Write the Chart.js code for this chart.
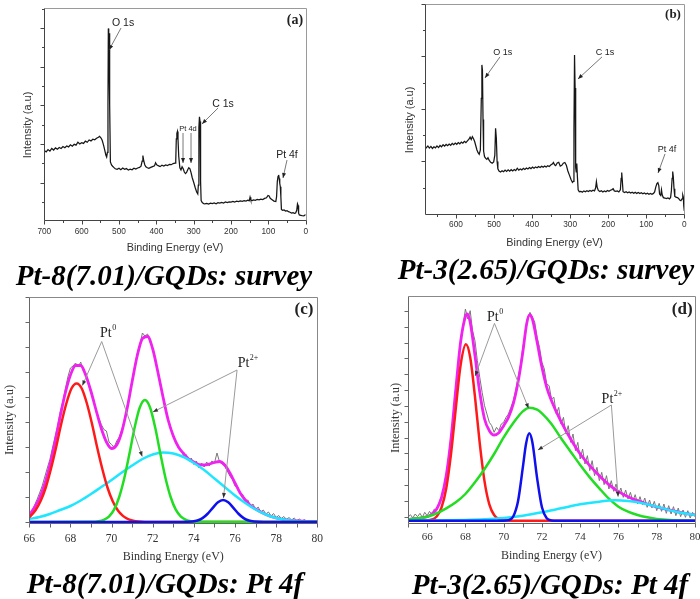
<!DOCTYPE html>
<html>
<head>
<meta charset="utf-8">
<title>XPS spectra of Pt/GQDs</title>
<script src="https://cdn.jsdelivr.net/npm/chart.js"></script>
<style>
  html, body { margin: 0; padding: 0; background: #fff; }
  body { position: relative; width: 700px; height: 599px; overflow: hidden; }
  canvas { position: absolute; left: 0; top: 0; }
  .caption { position: absolute; transform: translate(-50%, -50%); white-space: nowrap;
    font: italic bold 29px/1 "Liberation Serif", "Times New Roman", serif; color: #000; }
</style>
</head>
<body>
<canvas id="chartA" width="700" height="599"></canvas>
<canvas id="chartB" width="700" height="599"></canvas>
<canvas id="chartC" width="700" height="599"></canvas>
<canvas id="chartD" width="700" height="599"></canvas>
<div class="caption" style="left:164px;top:274.5px">Pt-8(7.01)/GQDs: survey</div>
<div class="caption" style="left:546px;top:269px">Pt-3(2.65)/GQDs: survey</div>
<div class="caption" style="left:165px;top:582.5px">Pt-8(7.01)/GQDs: Pt 4f</div>
<div class="caption" style="left:550px;top:584px">Pt-3(2.65)/GQDs: Pt 4f</div>
<script>
// ---------- data ----------

// (a) survey, Pt-8(7.01)/GQDs
const surveyA_eV = [
  700,695,690,685,680,675,670,665,660,655,
  650,645,640,635,630,625,620,615,610,605,
  600,595,590,585,580,575,570,565,560,555,
  552,548,545,541,538,535,533,531,529.5,528.5,
  527.5,526.5,525.5,524.5,523,520,517,514,510,505,
  500,495,490,485,480,475,470,465,460,455,
  450,445,441,438,436,434,431,428,424,420,
  415,410,405,402,399,395,390,385,380,375,
  370,365,360,355,350,348,346.5,345,343.5,342,
  340,337,334,331,328,325,322,319,316,313,
  310,307,304,300,296,292,289,287.5,286,284.5,
  283,281.5,280,277,273,270,265,260,255,250,
  245,240,235,230,225,220,215,210,205,200,
  195,190,185,180,175,170,165,160,155,151,
  149,147,143,140,135,130,125,120,115,110,
  105,101,98,95,90,85,80,78,76,74,
  72.5,71,69.5,68,66.5,65,62,58,54,50,
  46,42,38,34,30,27,24,22,20.5,19,
  17,13,9,5,2,0];
const surveyA_counts = [
  36.0,35.2,36.4,35.6,37.0,36.2,37.3,36.6,37.5,37.0,
  38.0,37.4,38.3,37.8,38.9,38.2,39.2,38.7,40.2,39.3,
  40.0,39.6,40.8,40.2,41.4,40.9,41.8,41.5,42.3,42.8,
  43.3,42.4,41.2,38.5,36.0,33.5,32.6,35.0,60,99.1,
  97,80,96.6,60,30.0,28.5,27.8,27.2,26.5,26.2,
  26.8,26.0,26.9,26.2,26.6,25.8,26.3,26.0,26.8,26.3,
  26.9,27.2,27.8,30.5,33.3,31.0,28.6,27.5,27.0,26.7,
  27.2,27.6,28.0,29.6,28.6,28.1,27.6,28.3,27.9,28.5,
  28.2,28.8,28.6,29.2,29.4,30.5,42.0,44.8,45.8,42.0,
  33.0,27.0,25.9,27.5,26.5,24.8,24.0,24.6,26.0,27.0,
  26.5,24.5,22.0,19.5,16.8,14.5,13.5,18.0,48.0,53.4,
  51.0,20.0,10.0,9.0,8.4,8.3,8.6,8.2,8.7,8.5,
  8.8,8.4,9.0,8.7,9.1,8.8,9.3,9.0,9.4,9.3,
  9.6,9.3,9.8,9.5,9.9,9.7,10.0,9.8,10.2,10.0,
  11.8,10.3,10.1,10.4,10.2,10.6,10.4,10.8,10.6,11.2,
  11.5,12.7,12.4,11.2,10.5,9.8,9.6,12,20,22.6,
  23.3,21.5,19,17.2,12,5.5,5.0,5.2,4.6,4.8,
  4.3,4.0,3.6,3.8,3.4,3.6,5.0,8.3,7.5,3.5,
  2.6,2.4,2.2,2.1,2.6,2.8];
const surveyA_ticks = [0, 100, 200, 300, 400, 500, 600, 700];

// (b) survey, Pt-3(2.65)/GQDs
const surveyB_eV = [
  681.5,680.5,678,674,670,666,662,658,654,650,
  646,642,638,634,630,626,622,618,614,610,
  606,602,598,594,590,586,582,578,574,570,
  566,563,560,557,554,551,548,545,542,539,
  536,533.5,532,530.5,529,527.5,525,522,519,516,
  513,509,505,501,498,496,494,492,490,487,
  483,479,475,471,467,463,459,455,451,447,
  443,439,435,431,427,423,419,415,411,407,
  403,399,395,391,387,383,379,375,371,367,
  363,359,355,351,347,344,341,338,334,330,
  326,322,318,314,310,306,302,298,294,291.5,
  290,288.5,287,285.5,284,282.5,281,279,276,272,
  268,264,260,256,252,248,244,240,236,233,
  231,229,226,222,218,214,210,206,202,198,
  194,190,187,184,180,176,172,168,166,164.5,
  163,161,157,153,149,145,141,137,133,129,
  125,121,117,113,109,105,101,97,93,89,
  85,81,78,75,72,69.5,67,65,62,60,
  58,55,51,47,43,39,36,34,32,30.5,
  29,27,25,22,18,15,12,9,6,4,
  2.5,1.5,0];
const surveyB_counts = [
  37.6,32.0,31.5,32.4,31.4,32.2,31.2,32.0,31.5,32.4,
  31.6,32.6,32.0,33.0,32.3,33.1,32.5,33.3,32.7,33.6,
  33.0,33.8,33.2,34.0,33.4,34.2,33.7,34.6,34.0,34.8,
  35.6,36.6,35.5,36.8,35.8,34.5,32.5,30.5,29.2,28.4,
  30.5,55,71.0,68.5,45,30.0,27.3,26.5,26.0,26.8,
  25.6,24.6,24.2,24.8,28,40.8,36,25,21.5,20.4,
  20.0,20.6,20.1,20.9,20.3,21.0,20.4,21.1,20.5,21.2,
  20.7,21.8,20.9,21.4,21.0,21.7,21.2,21.9,21.4,22.1,
  21.6,22.3,21.8,22.4,22.0,22.6,22.1,22.7,22.3,22.8,
  22.4,23.0,22.6,23.3,23.8,24.5,23.4,23.0,24.3,24.6,
  22.8,23.2,24.2,24.5,23.2,20.5,18.5,16.5,15.0,15.5,
  40,75.7,60,22,20,24.0,18,11.5,10.6,10.8,
  10.4,11.0,10.6,11.1,10.7,11.2,10.8,11.3,11.0,12.5,
  15.4,12.8,11.2,10.7,11.1,10.5,11.0,10.6,11.2,10.8,
  11.3,11.6,12.0,11.0,10.8,11.0,10.5,11.5,17.0,19.7,
  16.0,10.6,10.2,10.6,10.1,10.5,10.0,10.4,9.9,10.3,
  9.8,10.2,9.7,10.1,9.6,10.0,9.5,9.9,9.4,9.8,
  9.4,9.8,10.5,12.8,14.5,14.9,13.5,9.5,8.8,11.5,
  9.0,7.8,7.6,7.3,7.6,7.2,7.9,11,17,20.2,
  18,12,8.4,8.0,7.8,7.4,6.6,6.3,7.2,9.0,
  8.0,4.0,1.5];
const surveyB_ticks = [0, 100, 200, 300, 400, 500, 600];

// (c) Pt 4f, Pt-8(7.01)/GQDs
const pt4fC_ticks = [66, 68, 70, 72, 74, 76, 78, 80];
const pt4fC_rawStart = 66, pt4fC_rawStep = 0.125;
const pt4fC_raw = [
  0.10,0.20,0.33,0.45,0.58,0.72,0.90,1.08,
  1.25,1.48,1.70,1.92,2.20,2.40,2.66,2.90,
  3.08,3.12,3.18,3.10,3.20,3.02,2.98,2.75,
  2.58,2.45,2.20,2.08,1.95,1.85,1.82,1.60,
  1.55,1.50,1.62,1.70,1.85,2.05,2.30,2.55,
  2.85,3.12,3.38,3.55,3.78,3.72,3.76,3.60,
  3.48,3.22,3.02,2.78,2.52,2.30,2.05,1.90,
  1.70,1.62,1.48,1.45,1.32,1.35,1.22,1.28,
  1.15,1.22,1.08,1.18,1.10,1.20,1.12,1.22,
  1.18,1.38,1.20,1.16,1.12,1.02,0.92,0.85,
  0.72,0.70,0.56,0.55,0.42,0.44,0.32,0.36,
  0.25,0.30,0.20,0.24,0.16,0.20,0.12,0.17,
  0.09,0.13,0.07,0.11,0.05,0.09,0.04,0.08,
  0.03,0.06,0.02,0.05,0.01,0.03,0.00,0.02,
  0.00];
const pt4fC_envX = [66,66.25,66.5,66.75,67,67.25,67.5,67.75,68,68.25,68.5,68.75,69,69.25,69.5,69.75,
  70,70.25,70.5,70.75,71,71.25,71.5,71.75,72,72.25,72.5,72.75,73,73.25,73.5,73.75,
  74,74.25,74.5,74.75,75,75.25,75.5,75.75,76,76.25,76.5,76.75,77,77.5,78,78.5,79,79.5,80];
const pt4fC_envY = [0.14,0.29,0.48,0.76,1.14,1.60,2.11,2.58,2.94,3.13,3.13,2.93,2.61,2.23,1.87,1.60,
  1.47,1.54,1.81,2.26,2.81,3.33,3.67,3.71,3.46,3.00,2.50,2.04,1.72,1.50,1.37,1.26,
  1.20,1.15,1.14,1.16,1.19,1.21,1.14,0.98,0.78,0.58,0.44,0.33,0.26,0.15,0.08,0.04,0.02,0.01,0.01];
const pt4fC_redX = [66,66.3,66.55,66.8,67.05,67.3,67.55,67.8,68.05,68.3,68.55,68.8,69.05,69.3,69.55,69.8,70.05,70.3,70.55,70.8,71.05,71.3,72,80];
const pt4fC_redY = [0.09,0.235,0.42,0.69,1.06,1.49,1.96,2.37,2.67,2.77,2.67,2.37,1.96,1.49,1.06,0.69,0.42,0.235,0.122,0.058,0.026,0.011,0,0];
const pt4fC_greenX = [66,69,69.37,69.62,69.87,70.12,70.37,70.62,70.87,71.12,71.37,71.62,71.87,72.12,72.37,72.62,72.87,73.12,73.37,73.62,73.87,74.2,80];
const pt4fC_greenY = [0,0.003,0.014,0.041,0.107,0.246,0.50,0.88,1.37,1.89,2.29,2.44,2.29,1.89,1.37,0.88,0.50,0.246,0.107,0.041,0.014,0.003,0];
const pt4fC_blueX = [66,73.4,73.92,74.17,74.42,74.67,74.92,75.17,75.42,75.67,75.92,76.17,76.42,76.67,76.92,77.4,80];
const pt4fC_blueY = [0,0,0.009,0.029,0.077,0.165,0.284,0.395,0.44,0.395,0.284,0.165,0.077,0.029,0.009,0,0];
const pt4fC_cyanX = [66,66.5,67,67.5,68,68.5,69,69.5,70,70.5,71,71.5,72,72.5,73,73.5,74,74.5,75,75.5,76,76.5,77,77.5,78,78.5,79,79.5,80];
const pt4fC_cyanY = [0.06,0.10,0.16,0.24,0.32,0.43,0.56,0.70,0.84,0.99,1.13,1.26,1.35,1.39,1.37,1.30,1.18,1.04,0.87,0.70,0.53,0.38,0.25,0.15,0.08,0.04,0.02,0.01,0.01];

// (d) Pt 4f, Pt-3(2.65)/GQDs
const pt4fD_ticks = [66, 68, 70, 72, 74, 76, 78, 80];
const pt4fD_rawStart = 65, pt4fD_rawStep = 0.125;
const pt4fD_raw = [
  0.10,0.18,0.08,0.20,0.12,0.22,0.10,0.25,
  0.15,0.28,0.18,0.35,0.32,0.55,0.72,1.00,
  1.30,1.95,2.55,3.15,4.05,4.55,5.45,5.85,
  6.35,6.05,6.30,5.70,5.40,4.80,4.30,3.85,
  3.45,3.20,2.95,2.85,2.65,2.80,2.70,2.90,
  2.95,3.10,3.20,3.40,3.60,3.90,4.30,4.65,
  5.20,5.60,6.10,6.25,6.10,5.95,5.50,5.20,
  4.75,4.55,4.10,4.05,3.65,3.70,3.20,3.40,
  2.90,3.10,2.60,2.85,2.35,2.60,2.10,2.35,
  1.85,2.15,1.70,1.95,1.50,1.80,1.35,1.60,
  1.20,1.45,1.08,1.35,0.95,1.20,0.88,1.10,
  0.78,0.98,0.70,0.92,0.65,0.85,0.58,0.78,
  0.50,0.72,0.48,0.68,0.40,0.62,0.38,0.58,
  0.30,0.52,0.28,0.50,0.22,0.45,0.20,0.42,
  0.15,0.38,0.12,0.32,0.10,0.30,0.08,0.25,
  0.12];
const pt4fD_envX = [65,65.5,66,66.25,66.5,66.75,67,67.25,67.5,67.75,68,68.1,68.25,68.5,68.75,69,69.25,69.5,69.75,
  70,70.25,70.5,70.75,71,71.2,71.35,71.5,71.75,72,72.25,72.5,73,73.5,74,74.5,75,75.5,76,76.5,77,77.5,78,78.5,79,79.5,80];
const pt4fD_envY = [0.04,0.07,0.12,0.2,0.35,0.69,1.36,2.47,3.95,5.36,6.12,6.2,5.95,4.95,3.85,3.05,2.7,2.57,2.64,
  2.85,3.1,3.5,4.15,5.05,5.9,6.17,6.05,5.35,4.6,4.0,3.6,2.97,2.45,2.0,1.65,1.35,1.08,0.87,0.72,0.6,0.5,0.41,0.34,0.28,0.22,0.17];
const pt4fD_redX = [65,65.9,66.25,66.5,66.75,67,67.25,67.5,67.75,68.03,68.25,68.5,68.75,69,69.25,69.5,69.75,70,70.3,80];
const pt4fD_redY = [0,0.004,0.034,0.127,0.39,0.975,2.01,3.38,4.67,5.29,4.90,3.72,2.32,1.18,0.49,0.17,0.047,0.011,0.001,0];
const pt4fD_greenX = [65,65.5,66,66.5,67,67.5,68,68.5,69,69.5,70,70.5,71,71.35,71.75,72,72.5,73,73.5,74,74.5,75,75.5,76,76.5,77,77.5,78,78.5,79,80];
const pt4fD_greenY = [0.04,0.07,0.12,0.22,0.37,0.55,0.80,1.15,1.55,2.0,2.5,2.93,3.28,3.39,3.33,3.22,2.90,2.47,2.07,1.67,1.30,0.97,0.66,0.42,0.27,0.17,0.10,0.05,0.03,0.01,0];
const pt4fD_blueX = [65,70,70.25,70.5,70.75,71,71.17,71.34,71.5,71.75,72,72.25,72.5,72.8,80];
const pt4fD_blueY = [0,0.001,0.015,0.124,0.58,1.59,2.31,2.62,2.35,1.27,0.40,0.073,0.008,0,0];
const pt4fD_cyanX = [65,66,67,68,69,70,71,72,73,74,75,75.8,76.5,77,78,79,80];
const pt4fD_cyanY = [0,0.005,0.01,0.02,0.04,0.08,0.15,0.25,0.37,0.49,0.57,0.61,0.59,0.55,0.42,0.27,0.17];

// ---------- helpers ----------
const SANS = '"Liberation Sans", Arial, sans-serif';
const SERIF = '"Liberation Serif", "Times New Roman", serif';

const points = (xs, ys) => xs.map((x, i) => ({ x: x, y: ys[i] }));
const sampled = (x0, dx, ys) => ys.map((y, i) => ({ x: x0 + i * dx, y: y }));

function trace(data, color, width, smooth) {
    return {
        data: data,
        borderColor: color,
        borderWidth: width,
        pointRadius: 0,
        fill: false,
        tension: 0,
        cubicInterpolationMode: smooth ? 'monotone' : 'default'
    };
}

const label = (x, y, text, font, sup, supFont) => ({ x, y, text, font, sup, supFont });
const arrow = (x1, y1, x2, y2) => ({ arrow: [x1, y1, x2, y2] });

// frame, ticks, y title and the peak labels, all placed through the chart's scales
function decorPlugin(d) {
    return {
        id: 'decor',
        afterDraw(chart) {
            const ctx = chart.ctx, a = chart.chartArea;
            const xs = chart.scales.x, ys = chart.scales.y;
            const px = v => xs.getPixelForValue(v), py = v => ys.getPixelForValue(v);
            const L = Math.round(a.left) + 0.5, T = Math.round(a.top) + 0.5;
            const R = Math.round(a.right) + 0.5, B = Math.round(a.bottom) + 0.5;

            ctx.save();
            ctx.lineWidth = 1;
            ctx.strokeStyle = d.frameColor;
            ctx.beginPath();
            ctx.moveTo(L, T); ctx.lineTo(R, T); ctx.lineTo(R, B);
            ctx.stroke();

            ctx.strokeStyle = d.axisColor;
            ctx.beginPath();
            ctx.moveTo(L, T); ctx.lineTo(L, B); ctx.lineTo(R, B);
            for (let i = 0; ; i++) {
                const v = d.xTicks.from + i * d.xTicks.step;
                if (v > d.xTicks.to + 1e-9) break;
                const len = i % d.xTicks.majorEvery === 0 ? d.tickLen : d.minorLen;
                const x = Math.round(px(v)) + 0.5;
                ctx.moveTo(x, B); ctx.lineTo(x, B + len);
            }
            for (let i = 0; ; i++) {
                const v = d.yTicks.from + i * d.yTicks.step;
                if (v > ys.max + 1e-9) break;
                const len = i % d.yTicks.majorEvery === d.yTicks.phase ? d.tickLen : d.minorLen;
                const y = Math.round(py(v)) + 0.5;
                ctx.moveTo(L, y); ctx.lineTo(L - len, y);
            }
            ctx.stroke();

            // y axis title
            ctx.save();
            ctx.translate(a.left + d.yTitle.dx, (a.top + a.bottom) / 2 + d.yTitle.dy);
            ctx.rotate(-Math.PI / 2);
            ctx.font = d.yTitle.font;
            ctx.fillStyle = '#333';
            ctx.textAlign = 'center';
            ctx.textBaseline = 'middle';
            ctx.fillText('Intensity (a.u)', 0, 0);
            ctx.restore();

            // annotations
            d.notes.forEach(n => {
                if (n.arrow) {
                    const x1 = px(n.arrow[0]), y1 = py(n.arrow[1]);
                    const x2 = px(n.arrow[2]), y2 = py(n.arrow[3]);
                    ctx.strokeStyle = d.arrowColor;
                    ctx.lineWidth = d.arrowWidth;
                    ctx.beginPath(); ctx.moveTo(x1, y1); ctx.lineTo(x2, y2); ctx.stroke();
                    const ang = Math.atan2(y2 - y1, x2 - x1), h = 5, w = 2;
                    const c = Math.cos(ang), s = Math.sin(ang);
                    ctx.fillStyle = d.headColor;
                    ctx.beginPath();
                    ctx.moveTo(x2, y2);
                    ctx.lineTo(x2 - h * c + w * s, y2 - h * s - w * c);
                    ctx.lineTo(x2 - h * c - w * s, y2 - h * s + w * c);
                    ctx.closePath();
                    ctx.fill();
                } else {
                    ctx.fillStyle = '#222';
                    ctx.textBaseline = 'middle';
                    ctx.textAlign = 'left';
                    ctx.font = n.font;
                    const w1 = ctx.measureText(n.text).width;
                    let w2 = 0;
                    if (n.sup) { ctx.font = n.supFont; w2 = ctx.measureText(n.sup).width + 0.5; }
                    const left = px(n.x) - (w1 + w2) / 2, mid = py(n.y);
                    ctx.font = n.font;
                    ctx.fillText(n.text, left, mid);
                    if (n.sup) {
                        ctx.font = n.supFont;
                        ctx.fillText(n.sup, left + w1 + 0.5, mid - 5);
                    }
                }
            });
            ctx.restore();
        }
    };
}

function buildPanel(canvasId, p) {
    const W = 700, H = 599;
    return new Chart(document.getElementById(canvasId), {
        type: 'line',
        data: { datasets: p.datasets },
        options: {
            responsive: false,
            devicePixelRatio: 1,
            animation: false,
            events: [],
            layout: {
                padding: {
                    left: p.area.left,
                    top: p.area.top,
                    right: W - p.area.right,
                    bottom: H - p.area.bottom - p.xAxisHeight
                }
            },
            plugins: { legend: { display: false }, tooltip: { enabled: false } },
            scales: {
                x: {
                    type: 'linear',
                    min: p.xMin,
                    max: p.xMax,
                    reverse: !!p.reverse,
                    grid: { display: false, drawTicks: false },
                    border: { display: false },
                    afterBuildTicks: s => { s.ticks = p.xLabels.map(v => ({ value: v })); },
                    afterFit: s => { s.height = p.xAxisHeight; s.paddingLeft = 0; s.paddingRight = 0; },
                    ticks: {
                        autoSkip: false,
                        maxRotation: 0,
                        padding: p.tickPad,
                        color: '#333',
                        font: { family: p.family, size: p.tickSize },
                        callback: v => String(v)
                    },
                    title: {
                        display: true,
                        text: 'Binding Energy (eV)',
                        color: '#333',
                        font: { family: p.family, size: p.titleSize },
                        padding: { top: 0, bottom: 0 }
                    }
                },
                y: { type: 'linear', display: false, min: p.yMin, max: p.yMax }
            }
        },
        plugins: [decorPlugin(p.decor)]
    });
}

// ---------- panels ----------
const surveyDecor = {
    frameColor: '#9a9a9a', axisColor: '#444', tickLen: 4, minorLen: 2.5,
    arrowColor: '#555', arrowWidth: 0.8, headColor: '#222'
};
const fitDecor = {
    frameColor: '#888', axisColor: '#666', tickLen: 4, minorLen: 4,
    arrowColor: '#9a9a9a', arrowWidth: 1, headColor: '#333'
};
const noteA = `10.5px ${SANS}`, noteB = `9px ${SANS}`;
const ptFont = `14px ${SERIF}`, ptSup = `8px ${SERIF}`;

buildPanel('chartA', {
    area: { left: 44.3, top: 8.3, right: 305.7, bottom: 220 },
    xAxisHeight: 34.5, tickPad: 7, tickSize: 8.3, titleSize: 10.8, family: SANS,
    xMin: 0, xMax: 700, reverse: true, xLabels: surveyA_ticks,
    yMin: 0, yMax: 109.5,
    datasets: [trace(points(surveyA_eV, surveyA_counts), '#161616', 1.25, false)],
    decor: Object.assign({}, surveyDecor, {
        xTicks: { from: 0, step: 50, to: 700, majorEvery: 2 },
        yTicks: { from: 9.3, step: 10, majorEvery: 2, phase: 1 },
        yTitle: { dx: -16.3, dy: 10.8, font: `11px ${SANS}` },
        notes: [
            label(489, 101.9, 'O 1s', noteA), arrow(494.6, 99.3, 526.7, 87.9),
            label(221.4, 60.0, 'C 1s', noteA), arrow(234.8, 57.9, 277.7, 49.7),
            label(315.1, 47.1, 'Pt 4d', `7.5px ${SANS}`),
            arrow(328.5, 45.0, 328.5, 29.5), arrow(307.1, 45.0, 307.1, 29.5),
            label(50.1, 33.6, 'Pt 4f', noteA), arrow(50.1, 31.0, 60.8, 21.7),
            label(28.6, 103.5, '(a)', `bold 14px ${SERIF}`)
        ]
    })
});

buildPanel('chartB', {
    area: { left: 425, top: 4, right: 684.3, bottom: 214.3 },
    xAxisHeight: 35.7, tickPad: 5.7, tickSize: 8.3, titleSize: 10.8, family: SANS,
    xMin: 0, xMax: 681.5, reverse: true, xLabels: surveyB_ticks,
    yMin: -0.15, yMax: 100,
    datasets: [trace(points(surveyB_eV, surveyB_counts), '#161616', 1.25, false)],
    decor: Object.assign({}, surveyDecor, {
        xTicks: { from: 0, step: 50, to: 681.5, majorEvery: 2 },
        yTicks: { from: 12.5, step: 12.5, majorEvery: 2, phase: 1 },
        yTitle: { dx: -15, dy: 10.8, font: `11px ${SANS}` },
        notes: [
            label(477, 76.7, 'O 1s', noteB), arrow(484.5, 74.8, 523.8, 64.8),
            label(208.4, 76.7, 'C 1s', noteB), arrow(216.3, 74.8, 279.4, 64.3),
            label(45.5, 30.5, 'Pt 4f', noteB), arrow(50.7, 28.6, 69.1, 19.5),
            label(29.7, 94.8, '(b)', `bold 13px ${SERIF}`)
        ]
    })
});

buildPanel('chartC', {
    area: { left: 29.3, top: 296.7, right: 317.3, bottom: 523.3 },
    xAxisHeight: 40.6, tickPad: 9.1, tickSize: 11.5, titleSize: 12, family: SERIF,
    xMin: 66, xMax: 80, xLabels: pt4fC_ticks,
    yMin: -0.026, yMax: 4.506,
    datasets: [
        trace(points(pt4fC_blueX, pt4fC_blueY), '#1010ee', 2.5, true),
        trace(points(pt4fC_greenX, pt4fC_greenY), '#22dd22', 2.5, true),
        trace(points(pt4fC_redX, pt4fC_redY), '#ff1a1a', 2.5, true),
        trace(points(pt4fC_cyanX, pt4fC_cyanY), '#1ee6ff', 2.5, true),
        trace(points(pt4fC_envX, pt4fC_envY), '#f022f0', 2.8, true),
        trace(sampled(pt4fC_rawStart, pt4fC_rawStep, pt4fC_raw), '#777', 1, false)
    ],
    decor: Object.assign({}, fitDecor, {
        xTicks: { from: 66, step: 1, to: 80, majorEvery: 1 },
        yTicks: { from: 0, step: 0.5, majorEvery: 1, phase: 0 },
        yTitle: { dx: -19.3, dy: 10, font: `12.5px ${SERIF}` },
        notes: [
            label(69.83, 3.78, 'Pt', ptFont, '0', ptSup),
            arrow(69.52, 3.61, 68.58, 2.73), arrow(69.52, 3.61, 71.49, 1.31),
            label(76.63, 3.18, 'Pt', ptFont, '2+', ptSup),
            arrow(76.10, 3.04, 72.01, 2.2), arrow(76.10, 3.04, 75.44, 0.48),
            label(79.35, 4.24, '(c)', `bold 17px ${SERIF}`)
        ]
    })
});

buildPanel('chartD', {
    area: { left: 408, top: 296, right: 695, bottom: 523.3 },
    xAxisHeight: 39.6, tickPad: 6.8, tickSize: 11, titleSize: 12, family: SERIF,
    xMin: 65, xMax: 80, xLabels: pt4fD_ticks,
    yMin: -0.079, yMax: 6.74,
    datasets: [
        trace(points(pt4fD_blueX, pt4fD_blueY), '#1010ee', 2.5, true),
        trace(points(pt4fD_cyanX, pt4fD_cyanY), '#1ee6ff', 2.5, true),
        trace(points(pt4fD_greenX, pt4fD_greenY), '#22dd22', 2.5, true),
        trace(points(pt4fD_redX, pt4fD_redY), '#ff1a1a', 2.5, true),
        trace(points(pt4fD_envX, pt4fD_envY), '#f022f0', 2.8, true),
        trace(sampled(pt4fD_rawStart, pt4fD_rawStep, pt4fD_raw), '#777', 1, false)
    ],
    decor: Object.assign({}, fitDecor, {
        xTicks: { from: 65, step: 1, to: 80, majorEvery: 1 },
        yTicks: { from: 0.12, step: 0.4746, majorEvery: 1, phase: 0 },
        yTitle: { dx: -12, dy: 8.3, font: `12.5px ${SERIF}` },
        notes: [
            label(69.55, 6.11, 'Pt', ptFont, '0', ptSup),
            arrow(69.52, 5.92, 68.51, 4.34), arrow(69.52, 5.92, 71.30, 3.37),
            label(75.66, 3.65, 'Pt', ptFont, '2+', ptSup),
            arrow(75.63, 3.47, 71.79, 2.12), arrow(75.63, 3.47, 75.98, 0.72),
            label(79.33, 6.32, '(d)', `bold 17px ${SERIF}`)
        ]
    })
});
</script>
</body>
</html>
